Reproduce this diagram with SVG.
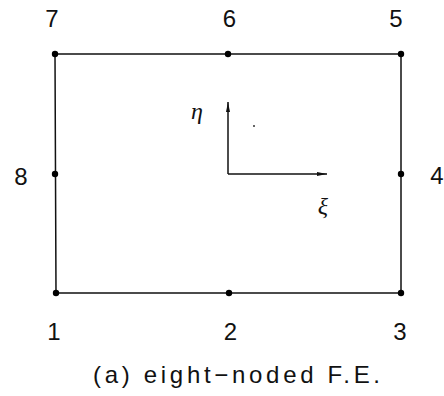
<svg xmlns="http://www.w3.org/2000/svg" width="444" height="396" viewBox="0 0 444 396">
<style>
.lbl{font-family:"Liberation Sans","DejaVu Sans",sans-serif;font-size:24px;fill:#111;text-anchor:middle}
.cap{font-family:"Liberation Sans","DejaVu Sans",sans-serif;font-size:24px;fill:#111;text-anchor:start}
.edge{stroke:#111;stroke-width:1.5;fill:none}
.dot{fill:#000}
.greek{font-family:"Liberation Serif","DejaVu Serif",serif;font-style:italic;font-size:24px;fill:#111;text-anchor:middle}
</style>
<defs>
<marker id="ah" viewBox="0 0 10 6" refX="10" refY="3" markerWidth="10" markerHeight="6" markerUnits="userSpaceOnUse" orient="auto">
<path d="M0,1 L10,3 L0,5 Z" fill="#111"/>
</marker>
</defs>
<rect width="444" height="396" fill="#fff"/>
<g id="connectors">
<path class="edge" d="M55,54 H401 V293 H56 Z"/>
<line class="edge" x1="228" y1="174" x2="228" y2="102" marker-end="url(#ah)"/>
<line class="edge" x1="228" y1="174" x2="327" y2="174" marker-end="url(#ah)"/>
</g>
<g id="n1"><circle class="dot" cx="56" cy="293" r="3.2"/><text class="lbl" x="54" y="340">1</text></g>
<g id="n2"><circle class="dot" cx="229" cy="293" r="3.2"/><text class="lbl" x="230.5" y="340">2</text></g>
<g id="n3"><circle class="dot" cx="401" cy="293" r="3.2"/><text class="lbl" x="400" y="340">3</text></g>
<g id="n4"><circle class="dot" cx="401" cy="174" r="3.2"/><text class="lbl" x="437" y="184">4</text></g>
<g id="n5"><circle class="dot" cx="401" cy="54" r="3.2"/><text class="lbl" x="396" y="27">5</text></g>
<g id="n6"><circle class="dot" cx="228" cy="54" r="3.2"/><text class="lbl" x="229.5" y="27">6</text></g>
<g id="n7"><circle class="dot" cx="55" cy="54" r="3.2"/><text class="lbl" x="52" y="27">7</text></g>
<g id="n8"><circle class="dot" cx="55" cy="174" r="3.2"/><text class="lbl" x="21" y="185">8</text></g>
<g id="axes">
<text class="greek" x="197" y="119">η</text>
<text class="greek" x="323" y="214">ξ</text>
<circle cx="254" cy="126" r="1" fill="#333"/>
</g>
<text class="cap" x="93" y="383" textLength="287" lengthAdjust="spacing">(a) eight−noded F.E.</text>
</svg>
